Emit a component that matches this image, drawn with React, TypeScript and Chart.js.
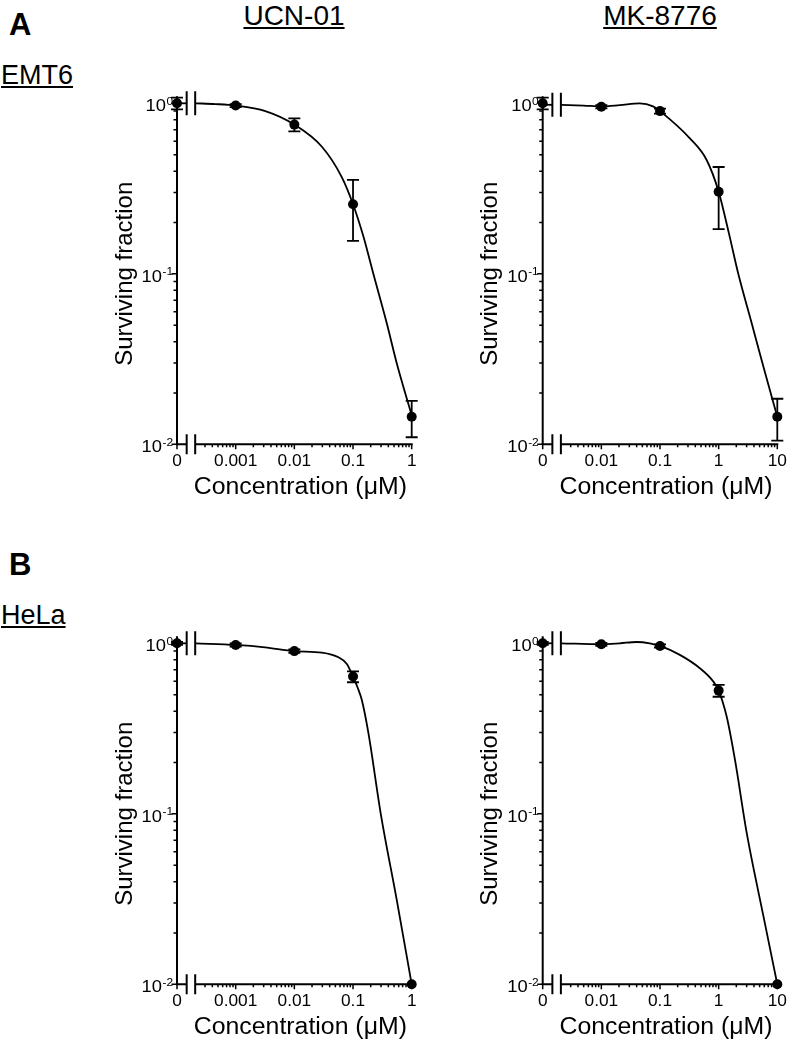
import React, { useEffect, useRef } from 'react';
import { Chart, registerables } from 'chart.js';

Chart.register(...registerables);

const FONT = "'Liberation Sans', Arial, Helvetica, sans-serif";

// ---------- data ----------
const UCN_CONC = [0, 0.001, 0.01, 0.1, 1];
const UCN_TICKS = [0.001, 0.01, 0.1, 1];
const UCN_TICK_LABELS = ['0.001', '0.01', '0.1', '1'];

const MK_CONC = [0, 0.01, 0.1, 1, 10];
const MK_TICKS = [0.01, 0.1, 1, 10];
const MK_TICK_LABELS = ['0.01', '0.1', '1', '10'];

const Y_TICKS = [1, 0.1, 0.01];
const Y_TICK_EXP = ['0', '-1', '-2'];

const EMT6_UCN_SURV = [1.0, 0.97, 0.75, 0.256, 0.0145];
const EMT6_UCN_ERR = [0.08, 0.02, 0.065, 0.1, 0.0035];
const EMT6_UCN_CURVE_X = [2.07e-4, 4.5e-4, 0.001, 0.0032, 0.01, 0.0295, 0.0646, 0.1, 0.15, 0.222, 0.376, 0.556, 1];
const EMT6_UCN_CURVE_Y = [1.0, 0.99, 0.97, 0.9, 0.75, 0.556, 0.368, 0.256, 0.166, 0.1, 0.0513, 0.0299, 0.0148];

const EMT6_MK_SURV = [1.0, 0.955, 0.9, 0.303, 0.0145];
const EMT6_MK_ERR = [0.08, 0.02, 0.03, 0.12, 0.004];
const EMT6_MK_CURVE_X = [2.07e-3, 0.005, 0.01, 0.0206, 0.0452, 0.0762, 0.1, 0.323, 0.624, 1, 1.5, 2.16, 3.66, 5.8, 10];
const EMT6_MK_CURVE_Y = [0.98, 0.97, 0.958, 0.975, 1.0, 0.96, 0.9, 0.623, 0.465, 0.303, 0.172, 0.1, 0.0513, 0.0285, 0.0145];

const HELA_UCN_SURV = [1.0, 0.978, 0.9, 0.638, 0.01];
const HELA_UCN_ERR = [0.02, 0.02, 0.02, 0.047, 0];
const HELA_UCN_CURVE_X = [2.07e-4, 0.001, 0.00316, 0.01, 0.0295, 0.0565, 0.0785, 0.1, 0.121, 0.141, 0.183, 0.297, 0.554, 1];
const HELA_UCN_CURVE_Y = [1.0, 0.978, 0.947, 0.9, 0.882, 0.828, 0.757, 0.638, 0.545, 0.466, 0.297, 0.1, 0.0315, 0.01];

const HELA_MK_SURV = [1.0, 0.987, 0.965, 0.528, 0.01];
const HELA_MK_ERR = [0.02, 0.02, 0.02, 0.042, 0];
const HELA_MK_CURVE_X = [2.07e-3, 0.01, 0.0206, 0.0396, 0.067, 0.1, 0.218, 0.479, 0.81, 1, 1.37, 1.9, 3.01, 5.8, 10];
const HELA_MK_CURVE_Y = [1.0, 0.987, 1.0, 1.018, 1.0, 0.965, 0.855, 0.714, 0.597, 0.528, 0.372, 0.207, 0.0772, 0.0251, 0.01];

// ---------- layout / style ----------
const CANVAS_W = 330;
const CANVAS_H = 430;
const BREAK_A_DEC = 0.165;
const BREAK_B_DEC = 0.31;
const TEXT_SX = 1.08;

type PanelDef = {
  left: number;
  top: number;
  zeroPos: number;
  xMax: number;
  conc: number[];
  surv: number[];
  err: number[];
  curveX: number[];
  curveY: number[];
  ticks: number[];
  tickLabels: string[];
  padLeft: number;
  padRight: number;
};

const PANELS: PanelDef[] = [
  { left: 95, top: 80, zeroPos: 1e-4, xMax: 1, conc: UCN_CONC, surv: EMT6_UCN_SURV, err: EMT6_UCN_ERR,
    curveX: EMT6_UCN_CURVE_X, curveY: EMT6_UCN_CURVE_Y, ticks: UCN_TICKS, tickLabels: UCN_TICK_LABELS, padLeft: 82, padRight: 13.3 },
  { left: 460, top: 80, zeroPos: 1e-3, xMax: 10, conc: MK_CONC, surv: EMT6_MK_SURV, err: EMT6_MK_ERR,
    curveX: EMT6_MK_CURVE_X, curveY: EMT6_MK_CURVE_Y, ticks: MK_TICKS, tickLabels: MK_TICK_LABELS, padLeft: 82.7, padRight: 12.7 },
  { left: 95, top: 620, zeroPos: 1e-4, xMax: 1, conc: UCN_CONC, surv: HELA_UCN_SURV, err: HELA_UCN_ERR,
    curveX: HELA_UCN_CURVE_X, curveY: HELA_UCN_CURVE_Y, ticks: UCN_TICKS, tickLabels: UCN_TICK_LABELS, padLeft: 82, padRight: 13.3 },
  { left: 460, top: 620, zeroPos: 1e-3, xMax: 10, conc: MK_CONC, surv: HELA_MK_SURV, err: HELA_MK_ERR,
    curveX: HELA_MK_CURVE_X, curveY: HELA_MK_CURVE_Y, ticks: MK_TICKS, tickLabels: MK_TICK_LABELS, padLeft: 82.7, padRight: 12.7 },
];

function drawText(ctx: CanvasRenderingContext2D, text: string, x: number, y: number, font: string, align: CanvasTextAlign) {
  ctx.save();
  ctx.font = font;
  ctx.textAlign = align;
  ctx.textBaseline = 'alphabetic';
  ctx.translate(x, y);
  ctx.scale(TEXT_SX, 1);
  ctx.fillText(text, 0, 0);
  ctx.restore();
}

function makePlugin(p: PanelDef) {
  const brkA = p.zeroPos * Math.pow(10, BREAK_A_DEC);
  const brkB = p.zeroPos * Math.pow(10, BREAK_B_DEC);
  return {
    id: 'panelAxes',
    beforeDatasetsDraw(chart: any) {
      const ctx: CanvasRenderingContext2D = chart.ctx;
      const xs = chart.scales.x;
      const ys = chart.scales.y;
      const x0 = xs.getPixelForValue(p.zeroPos);
      const xA = xs.getPixelForValue(brkA);
      const xB = xs.getPixelForValue(brkB);
      const xR = xs.getPixelForValue(p.xMax);
      const yBot = ys.getPixelForValue(0.01);
      const yTop = ys.getPixelForValue(1);
      ctx.save();
      ctx.strokeStyle = '#000';
      ctx.fillStyle = '#000';
      ctx.lineWidth = 2;
      ctx.lineCap = 'butt';
      // y axis
      ctx.beginPath();
      ctx.moveTo(x0, yBot);
      ctx.lineTo(x0, yTop - 7);
      ctx.stroke();
      // x axis (broken)
      ctx.beginPath();
      ctx.moveTo(x0 - 1, yBot);
      ctx.lineTo(xA, yBot);
      ctx.moveTo(xB, yBot);
      ctx.lineTo(xR + 1, yBot);
      ctx.stroke();
      // x break bars
      ctx.beginPath();
      ctx.moveTo(xA, yBot - 10);
      ctx.lineTo(xA, yBot + 10);
      ctx.moveTo(xB, yBot - 10);
      ctx.lineTo(xB, yBot + 10);
      ctx.stroke();
      // y ticks
      ctx.lineWidth = 1.5;
      ctx.beginPath();
      Y_TICKS.forEach((v) => {
        const y = ys.getPixelForValue(v);
        ctx.moveTo(x0, y);
        ctx.lineTo(x0 - 5.5, y);
      });
      [0.01, 0.1].forEach((d) => {
        for (let m = 2; m <= 9; m++) {
          const y = ys.getPixelForValue(m * d);
          ctx.moveTo(x0, y);
          ctx.lineTo(x0 - 3.5, y);
        }
      });
      ctx.stroke();
      // x ticks
      ctx.beginPath();
      ctx.moveTo(x0, yBot);
      ctx.lineTo(x0, yBot + 5);
      p.ticks.forEach((v) => {
        const x = xs.getPixelForValue(v);
        ctx.moveTo(x, yBot);
        ctx.lineTo(x, yBot + 5);
      });
      const dStart = Math.floor(Math.log10(p.zeroPos));
      const dEnd = Math.round(Math.log10(p.xMax));
      for (let d = dStart; d < dEnd; d++) {
        for (let m = 2; m <= 9; m++) {
          const v = m * Math.pow(10, d);
          if (v <= brkB * 1.02 || v >= p.xMax) continue;
          const x = xs.getPixelForValue(v);
          ctx.moveTo(x, yBot);
          ctx.lineTo(x, yBot + 3);
        }
      }
      ctx.stroke();
      // y tick labels
      Y_TICKS.forEach((v, i) => {
        const y = ys.getPixelForValue(v);
        const supFont = `11px ${FONT}`;
        ctx.font = supFont;
        const supW = ctx.measureText(Y_TICK_EXP[i]).width * TEXT_SX;
        const right = x0 - 4;
        drawText(ctx, Y_TICK_EXP[i], right, y + 1.5, supFont, 'right');
        drawText(ctx, '10', right - supW - 0.5, y + 8, `17px ${FONT}`, 'right');
      });
      // x tick labels
      const tf = `16px ${FONT}`;
      drawText(ctx, '0', x0, yBot + 22, tf, 'center');
      p.ticks.forEach((v, i) => {
        drawText(ctx, p.tickLabels[i], xs.getPixelForValue(v), yBot + 22, tf, 'center');
      });
      // axis titles
      drawText(ctx, 'Concentration (\u03bcM)', (x0 + xR) / 2 + 6, yBot + 50, `23px ${FONT}`, 'center');
      ctx.save();
      ctx.translate(x0 - 45.3, (yTop + yBot) / 2);
      ctx.rotate(-Math.PI / 2);
      ctx.font = `24px ${FONT}`;
      ctx.textAlign = 'center';
      ctx.textBaseline = 'alphabetic';
      ctx.fillText('Surviving fraction', 0, 0);
      ctx.restore();
      // error bars
      ctx.lineWidth = 1.8;
      ctx.beginPath();
      p.conc.forEach((c, i) => {
        const e = p.err[i];
        if (!e) return;
        const x = xs.getPixelForValue(c === 0 ? p.zeroPos : c);
        const yh = ys.getPixelForValue(p.surv[i] + e);
        const yl = ys.getPixelForValue(Math.max(p.surv[i] - e, 1e-4));
        ctx.moveTo(x, yh);
        ctx.lineTo(x, yl);
        ctx.moveTo(x - 6, yh);
        ctx.lineTo(x + 6, yh);
        ctx.moveTo(x - 6, yl);
        ctx.lineTo(x + 6, yl);
      });
      ctx.stroke();
      ctx.restore();
    },
    afterDatasetsDraw(chart: any) {
      const ctx: CanvasRenderingContext2D = chart.ctx;
      const xs = chart.scales.x;
      const ys = chart.scales.y;
      const xA = xs.getPixelForValue(brkA);
      const xB = xs.getPixelForValue(brkB);
      const yc = ys.getPixelForValue(p.curveY[0]);
      ctx.save();
      ctx.strokeStyle = '#000';
      ctx.lineWidth = 2;
      ctx.beginPath();
      ctx.moveTo(xA, yc - 12);
      ctx.lineTo(xA, yc + 12);
      ctx.moveTo(xB, yc - 12);
      ctx.lineTo(xB, yc + 12);
      ctx.stroke();
      ctx.restore();
    },
  };
}

function Panel({ def }: { def: PanelDef }) {
  const ref = useRef<HTMLCanvasElement | null>(null);
  useEffect(() => {
    if (!ref.current) return;
    const p = def;
    const brkA = p.zeroPos * Math.pow(10, BREAK_A_DEC);
    const points = p.conc.map((c, i) => ({ x: c === 0 ? p.zeroPos : c, y: p.surv[i] }));
    const curve = p.curveX.map((x, i) => ({ x, y: p.curveY[i] }));
    const stub = [
      { x: p.zeroPos, y: p.curveY[0] },
      { x: brkA, y: p.curveY[0] },
    ];
    const chart = new Chart(ref.current, {
      type: 'scatter',
      data: {
        datasets: [
          {
            type: 'scatter',
            data: points,
            pointRadius: 5,
            pointBackgroundColor: '#000',
            pointBorderWidth: 0,
            clip: false,
            order: 0,
          } as any,
          {
            type: 'line',
            data: curve,
            borderColor: '#000',
            borderWidth: 1.8,
            pointRadius: 0,
            cubicInterpolationMode: 'monotone',
            fill: false,
            clip: false,
            order: 1,
          } as any,
          {
            type: 'line',
            data: stub,
            borderColor: '#000',
            borderWidth: 1.8,
            pointRadius: 0,
            fill: false,
            clip: false,
            order: 2,
          } as any,
        ],
      },
      options: {
        animation: false,
        responsive: false,
        devicePixelRatio: 1,
        layout: { padding: { left: p.padLeft, right: p.padRight, top: 23.3, bottom: 65.7 } },
        plugins: { legend: { display: false }, tooltip: { enabled: false } },
        events: [],
        scales: {
          x: { type: 'logarithmic', min: p.zeroPos, max: p.xMax, display: false },
          y: { type: 'logarithmic', min: 0.01, max: 1, display: false },
        },
      } as any,
      plugins: [makePlugin(p)],
    });
    return () => chart.destroy();
  }, [def]);
  return (
    <canvas
      ref={ref}
      width={CANVAS_W}
      height={CANVAS_H}
      style={{ position: 'absolute', left: def.left, top: def.top, width: CANVAS_W, height: CANVAS_H }}
    />
  );
}

const headStyle: React.CSSProperties = {
  position: 'absolute',
  fontFamily: FONT,
  lineHeight: 1,
  color: '#000',
  whiteSpace: 'nowrap',
};

export default function App() {
  return (
    <div style={{ position: 'absolute', left: 0, top: 0, width: 790, height: 1046, background: '#fff', overflow: 'hidden' }}>
      <div style={{ ...headStyle, left: 9, top: 9, fontSize: 31, fontWeight: 'bold' }}>A</div>
      <div style={{ ...headStyle, left: 9, top: 549, fontSize: 31, fontWeight: 'bold' }}>B</div>
      <div style={{ ...headStyle, left: 194, width: 200, textAlign: 'center', top: 1.5, fontSize: 28, textDecoration: 'underline' }}>UCN-01</div>
      <div style={{ ...headStyle, left: 560, width: 200, textAlign: 'center', top: 1.5, fontSize: 28, textDecoration: 'underline' }}>MK-8776</div>
      <div style={{ ...headStyle, left: 1, top: 61.5, fontSize: 27, textDecoration: 'underline' }}>EMT6</div>
      <div style={{ ...headStyle, left: 1, top: 601.5, fontSize: 27, textDecoration: 'underline' }}>HeLa</div>
      {PANELS.map((d, i) => (
        <Panel key={i} def={d} />
      ))}
    </div>
  );
}
